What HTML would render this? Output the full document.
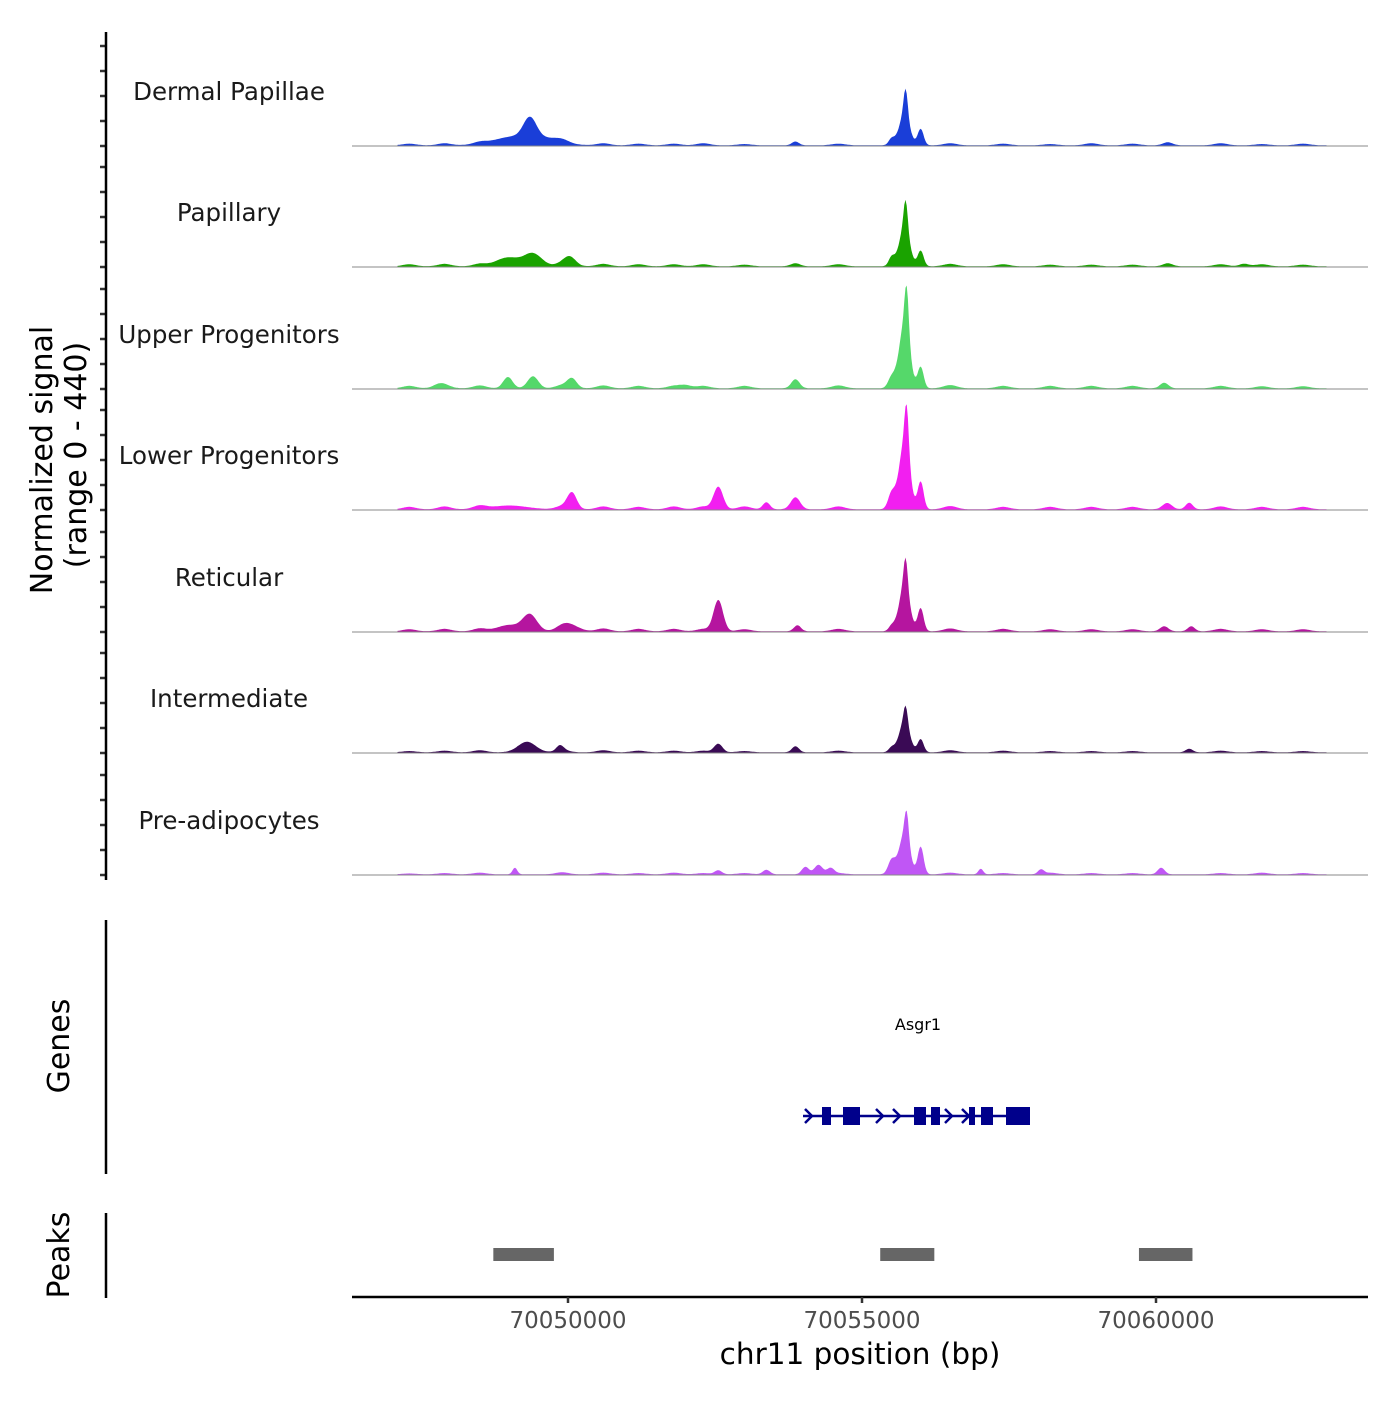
<!DOCTYPE html>
<html><head><meta charset="utf-8"><style>
body{margin:0;background:#fff}
svg text{font-family:"DejaVu Sans","Liberation Sans",sans-serif}
</style></head><body>
<svg id="c" width="1400" height="1400" viewBox="0 0 1400 1400" xmlns="http://www.w3.org/2000/svg">
<g id="tracks"></g>
<g id="axes"></g>
</svg>
<script>
const trackNames = ["Dermal Papillae","Papillary","Upper Progenitors","Lower Progenitors","Reticular","Intermediate","Pre-adipocytes"];
const trackColors = ["#1a3ed8","#1aa300","#55d86a","#f21ff0","#b5159f","#3a0a55","#c056f5"];
// bumps: [center bp, height (signal units), sigma bp]
const bumpsDP = [[70055743,110,35],[70055720,120,90],[70055998,65,50],[70055504,25,50],[70049353,80,110],[70049100,35,350],[70049700,20,250],[70053868,15,60],[70060200,12,80]];
const bumpsPap = [[70055743,120,35],[70055720,150,90],[70055998,62,50],[70055504,35,50],[70049404,50,150],[70048978,35,200],[70050034,35,100],[70053868,12,80],[70060200,12,80],[70061500,10,80]];
const bumpsUp = [[70055760,180,35],[70055720,255,90],[70055998,85,50],[70055504,42,60],[70048978,45,80],[70049404,48,90],[70050068,38,80],[70053868,36,70],[70060139,22,70],[70052000,12,100],[70047800,12,100]];
const bumpsLow = [[70055760,180,35],[70055720,265,90],[70055998,110,50],[70055504,62,60],[70052556,90,80],[70050068,65,80],[70053868,48,80],[70053374,28,60],[70060190,25,80],[70060565,26,60],[70049000,15,300]];
const bumpsRet = [[70055743,120,35],[70055720,180,90],[70055998,92,50],[70052556,125,80],[70049353,65,120],[70049000,25,200],[70050034,25,150],[70053902,24,60],[70060139,20,70],[70060599,20,60],[70055504,20,50]];
const bumpsInt = [[70055743,70,35],[70055720,120,90],[70055998,52,50],[70052556,34,70],[70049301,42,150],[70049864,20,60],[70053868,24,60],[70055504,18,50],[70060565,14,60]];
const bumpsPre = [[70055760,110,35],[70055720,160,90],[70055998,110,50],[70055504,55,60],[70054260,38,70],[70054038,30,60],[70054464,24,60],[70049097,26,40],[70060088,26,60],[70057020,22,40],[70058043,18,50],[70053374,18,60],[70052556,16,60]];
const trackBumps = [bumpsDP,bumpsPap,bumpsUp,bumpsLow,bumpsRet,bumpsInt,bumpsPre];
// background noise positions and per-track levels
const bgPos = [70047300,70047900,70048500,70049900,70050600,70051200,70051800,70052300,70053000,70054600,70056500,70057400,70058200,70058900,70059600,70061100,70061800,70062500];
const bgLevels = [
 [8,10,10,12,10,8,8,10,6,8,10,8,6,10,8,10,6,8],
 [10,12,12,14,12,10,10,10,8,10,12,10,8,8,8,10,10,8],
 [12,14,14,16,14,12,12,12,12,14,16,12,12,12,12,12,10,10],
 [12,14,16,16,14,12,14,14,14,14,16,12,12,12,12,14,12,12],
 [10,12,14,16,14,12,12,12,10,12,14,12,10,10,10,12,10,10],
 [6,8,10,12,10,8,8,8,6,8,10,8,6,6,6,8,6,6],
 [4,6,8,10,8,6,8,6,6,6,8,6,8,6,6,6,8,6]];
const xTicks = [70050000,70055000,70060000];
const peaks = [[70048730,70049760],[70055310,70056230],[70059710,70060620]];
const dataStart = 70047100, dataEnd = 70062900;

const NS="http://www.w3.org/2000/svg";
function mk(tag,attrs,parent){const e=document.createElementNS(NS,tag);for(const k in attrs)e.setAttribute(k,attrs[k]);parent.appendChild(e);return e;}
const X = bp => 568 + (bp-70050000)*(294/5000);
const baselines=[146,267,389,510,632,753,875];
const Y = (v,i) => baselines[i] - v*0.25;
const T = document.getElementById('tracks'), A = document.getElementById('axes');

function signal(i,bp){
  let v=3;
  for(const b of trackBumps[i]){const d=(bp-b[0])/b[2];v+=b[1]*Math.exp(-0.5*d*d);}
  for(let k=0;k<bgPos.length;k++){const d=(bp-bgPos[k])/110;v+=bgLevels[i][k]*0.8*Math.exp(-0.5*d*d);}
  return v;
}
trackNames.forEach((nm,i)=>{
  let d=`M${X(dataStart)},${baselines[i]}`;
  for(let bp=dataStart;bp<=dataEnd;bp+=20){d+=` L${X(bp).toFixed(1)},${Y(Math.min(signal(i,bp),440),i).toFixed(1)}`;}
  d+=` L${X(dataEnd)},${baselines[i]} Z`;
  const p=mk('path',{d,fill:trackColors[i],stroke:'none'},T);
  
  
  const l=mk('line',{x1:352,x2:1368,y1:baselines[i],y2:baselines[i],stroke:'#888','stroke-width':1},T);
  
  
  const t=mk('text',{x:229,y:baselines[i]-46,'text-anchor':'middle','font-size':24.5,fill:'#1a1a1a'},T);
  t.textContent=nm;
  
  
  for(let k=0;k<5;k++){
    const tk=mk('line',{x1:100,x2:106,y1:baselines[i]-k*25,y2:baselines[i]-k*25,stroke:'#333','stroke-width':2.5},A);
    
    
  }
});
function line(x1,y1,x2,y2,w,c,name){const l=mk('line',{x1,y1,x2,y2,stroke:c,'stroke-width':w},A);return l;}
line(106,32,106,880,2.5,'#000','signal-y-axis');
line(106,920,106,1174,2.5,'#000','genes-y-axis');
line(106,1213,106,1298,2.5,'#000','peaks-y-axis');
line(352,1297,1368,1297,2.5,'#000','x-axis');
xTicks.forEach(v=>{
  line(X(v),1297,X(v),1303,2.5,'#333','x-tick');
  const t=mk('text',{x:X(v),y:1328,'text-anchor':'middle','font-size':23,fill:'#4d4d4d'},A);
  t.textContent=v;
  
  
});
function txt(s,attrs,name){const t=mk('text',attrs,A);t.textContent=s;return t;}
txt('chr11 position (bp)',{x:860,y:1364,'text-anchor':'middle','font-size':29.5,fill:'#000'},'x-axis-title');
txt('Normalized signal',{x:0,y:0,transform:'translate(52,460) rotate(-90)','text-anchor':'middle','font-size':30,fill:'#000'},'y-axis-title');
txt('(range 0 - 440)',{x:0,y:0,transform:'translate(86,455) rotate(-90)','text-anchor':'middle','font-size':30,fill:'#000'},'y-axis-range');
txt('Genes',{x:0,y:0,transform:'translate(69,1046) rotate(-90)','text-anchor':'middle','font-size':30,fill:'#000'},'genes-title');
txt('Peaks',{x:0,y:0,transform:'translate(69,1255) rotate(-90)','text-anchor':'middle','font-size':30,fill:'#000'},'peaks-title');
txt('Asgr1',{x:918,y:1030,'text-anchor':'middle','font-size':16,fill:'#000'},'gene-label');
const G=mk('g',{fill:'#00008b',stroke:'#00008b'},A);


mk('line',{x1:803,y1:1116,x2:1030,y2:1116,'stroke-width':2.5},G);
[[822,831],[843,860],[914,926],[931,940],[969,975],[981,993],[1006,1030]].forEach(e=>{
  mk('rect',{x:e[0],y:1107,width:e[1]-e[0],height:18,stroke:'none'},G);
});
[805,876,893,945,962].forEach(x=>{
  mk('path',{d:`M${x},1109 L${x+7},1116 L${x},1123`,fill:'none','stroke-width':2.5},G);
});
peaks.forEach(p=>{
  const r=mk('rect',{x:X(p[0]),y:1248,width:X(p[1])-X(p[0]),height:13,fill:'#666'},A);
  
  
});
</script>
</body></html>
